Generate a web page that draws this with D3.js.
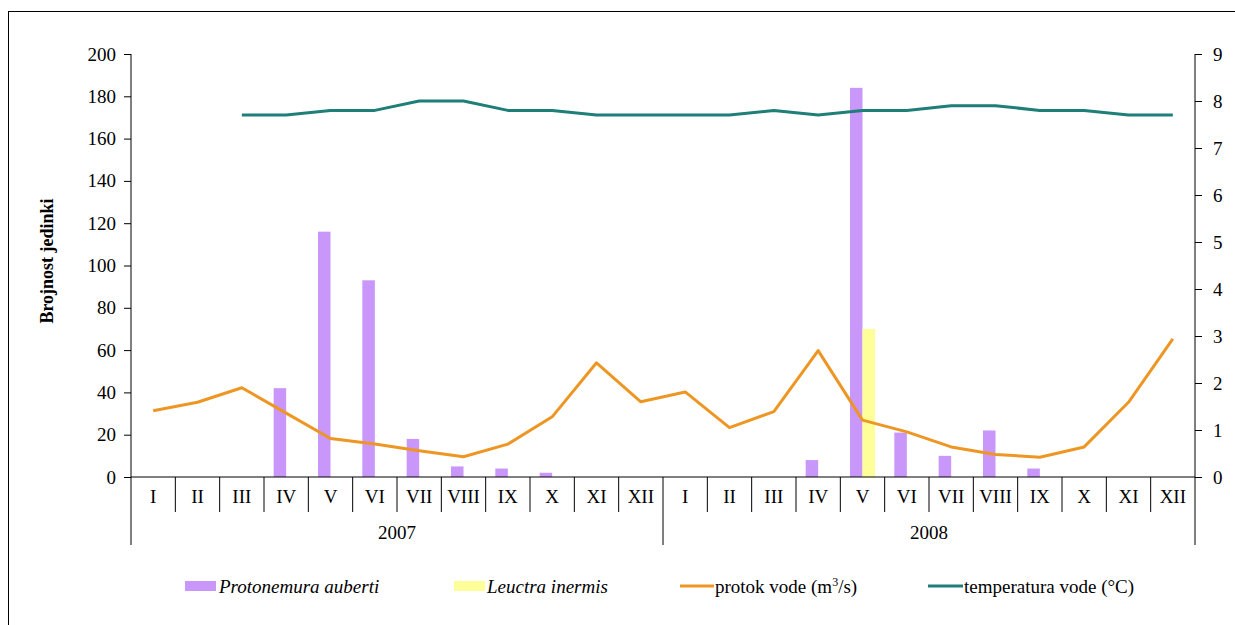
<!DOCTYPE html>
<html>
<head>
<meta charset="utf-8">
<script src="https://cdn.jsdelivr.net/npm/d3@7"></script>
<style>
  html, body { margin: 0; padding: 0; background: #fff; }
  svg { display: block; }
</style>
</head>
<body>
<svg id="chart" width="1235" height="625"></svg>
<script>
// ---- data ----
const years = ["2007", "2008"];
const months = ["I","II","III","IV","V","VI","VII","VIII","IX","X","XI","XII"];
const protonemura = [0,0,0,42,116,93,18,5,4,2,0,0, 0,0,0,8,184,21,10,22,4,0,0,0];
const leuctra     = [0,0,0,0,0,0,0,0,0,0,0,0, 0,0,0,0,70,0,0,0,0,0,0,0];
const protok      = [1.41,1.59,1.90,1.36,0.82,0.70,0.56,0.43,0.70,1.28,2.43,1.60,
                     1.81,1.05,1.39,2.69,1.21,0.96,0.64,0.48,0.42,0.64,1.59,2.94];
const temperatura = [null,null,7.7,7.7,7.8,7.8,8.0,8.0,7.8,7.8,7.7,7.7,
                     7.7,7.7,7.8,7.7,7.8,7.8,7.9,7.9,7.8,7.8,7.7,7.7];
const leftTicks = [0,20,40,60,80,100,120,140,160,180,200];
const rightTicks = [0,1,2,3,4,5,6,7,8,9];
const seriesNames = ["Protonemura auberti", "Leuctra inermis", "protok vode (m³/s)", "temperatura vode (°C)"];
const colors = { prot: "#C996FA", leuc: "#FFFF99", protok: "#EE9623", temp: "#1E7E78" };

// ---- layout ----
const FONT = "'Liberation Serif', serif";
const FS = "19px";
const svg = d3.select("#chart");
const L = 131, R = 1195, T = 54, B = 477;

// outer border
svg.append("rect").attr("x", 8.5).attr("y", 11.5).attr("width", 1240).attr("height", 640)
  .attr("fill", "none").attr("stroke", "#000").attr("stroke-width", 1);

const cats = [];
years.forEach(y => months.forEach(m => cats.push(y + "-" + m)));

const x = d3.scaleBand().domain(cats).range([L, R]).paddingInner(0).paddingOuter(0);
const yL = d3.scaleLinear().domain([0, 200]).range([B, T]);
const yR = d3.scaleLinear().domain([0, 9]).range([B, T]);
const bw = x.bandwidth();
const barW = 12.5;

// bars
const g = svg.append("g");
g.selectAll("rect.prot").data(protonemura.map((v,i)=>({v, c: cats[i]}))).join("rect")
  .attr("class","prot")
  .attr("x", d => x(d.c) + bw/2 - barW)
  .attr("width", barW)
  .attr("y", d => yL(d.v))
  .attr("height", d => B - yL(d.v))
  .attr("fill", colors.prot);
g.selectAll("rect.leuc").data(leuctra.map((v,i)=>({v, c: cats[i]}))).join("rect")
  .attr("class","leuc")
  .attr("x", d => x(d.c) + bw/2)
  .attr("width", barW)
  .attr("y", d => yL(d.v))
  .attr("height", d => B - yL(d.v))
  .attr("fill", colors.leuc);

// lines
const lineGen = d3.line()
  .defined(d => d.v !== null)
  .x(d => x(d.c) + bw/2)
  .y(d => yR(d.v));
g.append("path").datum(protok.map((v,i)=>({v, c: cats[i]})))
  .attr("d", lineGen).attr("fill","none").attr("stroke", colors.protok)
  .attr("stroke-width", 3).attr("stroke-linejoin","round");
g.append("path").datum(temperatura.map((v,i)=>({v, c: cats[i]})))
  .attr("d", lineGen).attr("fill","none").attr("stroke", colors.temp)
  .attr("stroke-width", 3).attr("stroke-linejoin","round");

// left axis
const axL = svg.append("g").attr("transform", `translate(${L},0)`)
  .call(d3.axisLeft(yL).tickValues(leftTicks).tickSize(7).tickPadding(8));
axL.select(".domain").attr("d", `M0,${T}V${B}`);
axL.selectAll("text").style("font-family", FONT).style("font-size", FS);

// right axis
const axR = svg.append("g").attr("transform", `translate(${R},0)`)
  .call(d3.axisRight(yR).tickValues(rightTicks).tickSize(7).tickPadding(11));
axR.select(".domain").attr("d", `M0,${T}V${B}`);
axR.selectAll("text").style("font-family", FONT).style("font-size", FS);

// bottom axis line
svg.append("line").attr("x1", L).attr("x2", R).attr("y1", B).attr("y2", B).attr("stroke","#000");

// category separators and labels
const bands = svg.append("g");
cats.forEach((c, i) => {
  const x0 = x(c);
  const isYear = (i % 12 === 0);
  bands.append("line").attr("x1", x0).attr("x2", x0).attr("y1", B)
    .attr("y2", isYear ? 545 : 512).attr("stroke", "#000");
});
bands.append("line").attr("x1", R).attr("x2", R).attr("y1", B).attr("y2", 545).attr("stroke", "#000");
bands.selectAll("text.m").data(cats).join("text").attr("class","m")
  .attr("x", d => x(d) + bw/2).attr("y", 503)
  .attr("text-anchor","middle")
  .style("font-family", FONT).style("font-size", FS)
  .text(d => d.split("-")[1]);
years.forEach((yr, k) => {
  const xs = x(yr + "-I"), xe = x(yr + "-XII") + bw;
  bands.append("text").attr("x", (xs + xe)/2).attr("y", 539)
    .attr("text-anchor","middle")
    .style("font-family", FONT).style("font-size", FS)
    .text(yr);
});

// y-axis title
svg.append("text").attr("transform", "translate(53,261) rotate(-90)")
  .attr("text-anchor","middle")
  .style("font-family", FONT).style("font-size","18px").style("font-weight","bold")
  .text("Brojnost jedinki");

// legend
const lg = svg.append("g");
const ly = 587;
const legText = (sel) => sel.style("font-family", FONT).style("font-size", FS);
lg.append("rect").attr("x",185).attr("y",ly-6).attr("width",31).attr("height",10).attr("fill",colors.prot);
lg.append("text").attr("x",219).attr("y",ly+6).call(legText).style("font-style","italic").text(seriesNames[0]);
lg.append("rect").attr("x",454).attr("y",ly-6).attr("width",31).attr("height",10).attr("fill",colors.leuc);
lg.append("text").attr("x",487).attr("y",ly+6).call(legText).style("font-style","italic").text(seriesNames[1]);
lg.append("line").attr("x1",680).attr("x2",714).attr("y1",ly-1).attr("y2",ly-1).attr("stroke",colors.protok).attr("stroke-width",3);
const t3 = lg.append("text").attr("x",715).attr("y",ly+6).call(legText);
t3.append("tspan").text("protok vode (m");
t3.append("tspan").attr("dy",-7).style("font-size","12px").text("3");
t3.append("tspan").attr("dy",7).text("/s)");
lg.append("line").attr("x1",928).attr("x2",963).attr("y1",ly-1).attr("y2",ly-1).attr("stroke",colors.temp).attr("stroke-width",3);
lg.append("text").attr("x",964).attr("y",ly+6).call(legText).text(seriesNames[3]);
</script>
</body>
</html>
